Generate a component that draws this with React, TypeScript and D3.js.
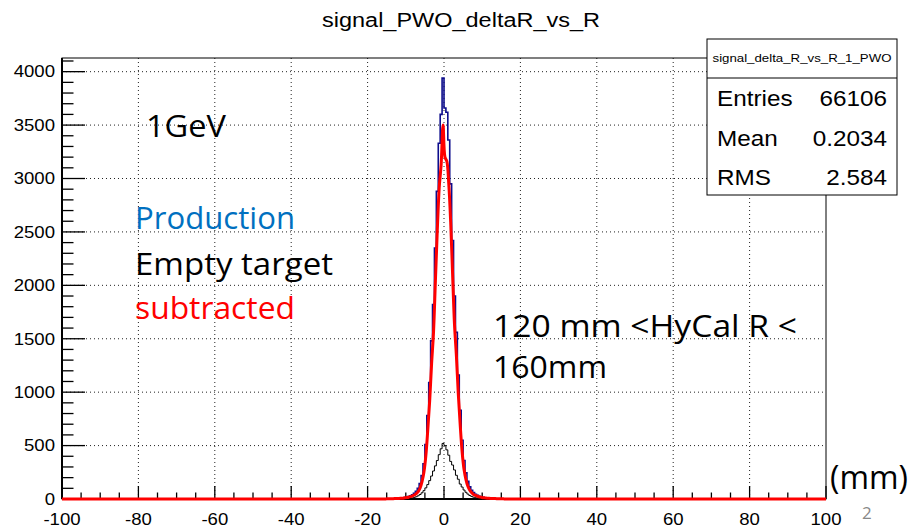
import React from "react";
import * as d3 from "d3";

// ---------- data ----------
const BIN_START = -16; // mm, lower edge of first listed bin
const BIN_WIDTH = 0.5; // mm
// Production (blue), bins from -16 to +16 mm, 0.5 mm wide
const production = [
  1, 1, 2, 2, 3, 3, 4, 5, 6, 8, 10, 13, 17, 22, 30, 40, 53, 72, 100, 145, 220, 330, 510, 780, 1090, 1480, 1820, 2350, 2880, 3330, 3600, 3940,
  3660, 3620, 3360, 2950, 2420, 1900, 1560, 1160, 830, 550, 360, 245, 165, 115, 82, 60, 45, 34, 26, 20, 15, 12, 9, 7, 6, 5, 4, 3, 3, 2, 2, 1,
];
// Empty target (black)
const emptyTarget = [
  0, 0, 0, 1, 0, 1, 0, 1, 1, 1, 2, 2, 3, 5, 7, 10, 15, 21, 30, 42, 58, 78, 104, 135, 172, 215, 262, 310, 360, 415, 470, 520,
  500, 460, 410, 352, 318, 272, 222, 185, 140, 112, 84, 63, 46, 33, 24, 17, 12, 8, 6, 4, 3, 2, 1, 1, 1, 0, 1, 0, 0, 1, 0, 0,
];
// Subtracted (red)
const subtracted = [
  1, 1, 2, 2, 3, 3, 4, 5, 5, 7, 8, 11, 14, 17, 23, 30, 38, 51, 70, 103, 162, 252, 406, 645, 918, 1265, 1558, 2040, 2520, 2915, 3130, 3500,
  3200, 3160, 2950, 2590, 2105, 1632, 1338, 980, 688, 440, 276, 182, 119, 82, 58, 43, 33, 26, 20, 16, 12, 10, 8, 6, 5, 5, 4, 3, 3, 2, 2, 1,
];
const xMajorTicks = [-100, -80, -60, -40, -20, 0, 20, 40, 60, 80, 100];
const yMajorTicks = [0, 500, 1000, 1500, 2000, 2500, 3000, 3500, 4000];
const statsRows = [
  ["Entries", "66106"],
  ["Mean", "0.2034"],
  ["RMS", "2.584"],
];

// ---------- layout ----------
const W = 924;
const H = 529;
const left = 62, right = 826, top = 58, bottom = 499;
const X_MIN = -100, X_MAX = 100, Y_MAX = 4128;

const x = d3.scaleLinear().domain([X_MIN, X_MAX]).range([left, right]);
const y = d3.scaleLinear().domain([0, Y_MAX]).range([bottom, top]);

const ROOTFONT = "'Liberation Sans', Arial, Helvetica, sans-serif";
const SLIDEFONT = "'Open Sans', 'Noto Sans', sans-serif";

function fullBins(vals: number[]) {
  const nTotal = Math.round((X_MAX - X_MIN) / BIN_WIDTH);
  const out: [number, number][] = [];
  const offset = Math.round((BIN_START - X_MIN) / BIN_WIDTH);
  for (let i = 0; i < nTotal; i++) {
    const j = i - offset;
    const v = j >= 0 && j < vals.length ? vals[j] : 0;
    out.push([X_MIN + i * BIN_WIDTH, v]);
  }
  return out;
}

function stepPath(vals: number[]) {
  const bins = fullBins(vals);
  let p = `M${x(X_MIN)},${y(0)}`;
  bins.forEach(([lo, v]) => {
    p += `L${x(lo)},${y(v)}L${x(lo + BIN_WIDTH)},${y(v)}`;
  });
  p += `L${x(X_MAX)},${y(0)}`;
  return p;
}

function smoothPath(vals: number[]) {
  const bins = fullBins(vals);
  const pts: [number, number][] = bins.map(([lo, v]) => [lo + BIN_WIDTH / 2, v]);
  const line = d3
    .line<[number, number]>()
    .x((d) => x(d[0]))
    .y((d) => y(d[1]))
    .curve(d3.curveCatmullRom.alpha(0.5));
  return line([[X_MIN, 0], ...pts, [X_MAX, 0]]) || "";
}

export default function App() {
  const xMinor = d3.range(X_MIN, X_MAX + 0.001, 5);
  const yMinor = d3.range(0, Y_MAX, 100);
  const sx = 1.16;
  return (
    <svg width={W} height={H} style={{ position: "absolute", left: 0, top: 0, background: "#fff" }}>
      <rect x={0} y={0} width={W} height={H} fill="#fff" />
      {/* grid */}
      <g stroke="#222" strokeWidth={1} strokeDasharray="1 3">
        {xMajorTicks
          .filter((t) => t > X_MIN && t < X_MAX)
          .map((t) => (
            <line key={"gx" + t} x1={x(t)} x2={x(t)} y1={bottom} y2={top} />
          ))}
        {yMajorTicks
          .filter((t) => t > 0)
          .map((t) => (
            <line key={"gy" + t} x1={left} x2={right} y1={y(t)} y2={y(t)} />
          ))}
      </g>
      {/* histograms */}
      <path d={stepPath(production)} fill="none" stroke="#0d0d8c" strokeWidth={1.6} />
      <path d={stepPath(emptyTarget)} fill="none" stroke="#000" strokeWidth={1} />
      {/* frame */}
      <rect x={left} y={top} width={right - left} height={bottom - top} fill="none" stroke="#000" strokeWidth={1} />
      {/* axes */}
      <line x1={left} x2={left} y1={top} y2={bottom} stroke="#000" strokeWidth={2} />
      <line x1={left} x2={right} y1={bottom} y2={bottom} stroke="#000" strokeWidth={2} />
      <g stroke="#000" strokeWidth={1.3}>
        {xMinor.map((t) => {
          const major = t % 20 === 0;
          return <line key={"tx" + t} x1={x(t)} x2={x(t)} y1={bottom} y2={bottom - (major ? 13 : 6.5)} />;
        })}
        {yMinor.map((t) => {
          const major = t % 500 === 0;
          return <line key={"ty" + t} x1={left} x2={left + (major ? 23 : 11.5)} y1={y(t)} y2={y(t)} />;
        })}
      </g>
      <path d={smoothPath(subtracted)} fill="none" stroke="#ff0000" strokeWidth={3} strokeLinejoin="round" />
      {/* tick labels */}
      <g fontFamily={ROOTFONT} fontSize={16} fill="#000">
        {yMajorTicks.map((t) => (
          <text key={"ly" + t} transform={`translate(${left - 7},${y(t) + 5.8}) scale(${sx},1)`} textAnchor="end">
            {t}
          </text>
        ))}
        {xMajorTicks.map((t) => (
          <text key={"lx" + t} transform={`translate(${x(t)},${525}) scale(${sx},1)`} textAnchor="middle">
            {t}
          </text>
        ))}
      </g>
      {/* title */}
      <text x={461} y={27} fontFamily={ROOTFONT} fontSize={20} textAnchor="middle" textLength={278} lengthAdjust="spacingAndGlyphs">
        signal_PWO_deltaR_vs_R
      </text>
      {/* stats box */}
      <g>
        <rect x={707} y={39} width={190} height={156} fill="#fff" stroke="#000" strokeWidth={1} />
        <line x1={707} x2={897} y1={78} y2={78} stroke="#000" strokeWidth={1} />
        <text x={802} y={62} fontFamily={ROOTFONT} fontSize={11} textAnchor="middle" textLength={179} lengthAdjust="spacingAndGlyphs">
          signal_delta_R_vs_R_1_PWO
        </text>
        {statsRows.map(([k, v], i) => (
          <g key={k} fontFamily={ROOTFONT} fontSize={21.5}>
            <text transform={`translate(717,${106 + i * 39.5}) scale(1.13,1)`}>{k}</text>
            <text transform={`translate(887,${106 + i * 39.5}) scale(1.13,1)`} textAnchor="end">{v}</text>
          </g>
        ))}
      </g>
      {/* annotations */}
      <g fontFamily={SLIDEFONT} fontSize={31}>
        <text x={146} y={137} fill="#000" textLength={80} lengthAdjust="spacingAndGlyphs">1GeV</text>
        <text x={135} y={229} fill="#0070c0" textLength={160} lengthAdjust="spacingAndGlyphs">Production</text>
        <text x={135} y={275} fill="#000" textLength={198} lengthAdjust="spacingAndGlyphs">Empty target</text>
        <text x={135} y={319} fill="#ff0000" textLength={160} lengthAdjust="spacingAndGlyphs">subtracted</text>
        <text x={493} y={337} fill="#000" textLength={304} lengthAdjust="spacingAndGlyphs">120 mm &lt;HyCal R &lt;</text>
        <text x={493} y={378} fill="#000" textLength={114} lengthAdjust="spacingAndGlyphs">160mm</text>
        <text x={830} y={489} fill="#000" fontSize={33} textLength={78} lengthAdjust="spacingAndGlyphs">(mm)</text>
      </g>
      <text x={862} y={519} fontFamily={SLIDEFONT} fontSize={17} fill="#888">2</text>
    </svg>
  );
}
